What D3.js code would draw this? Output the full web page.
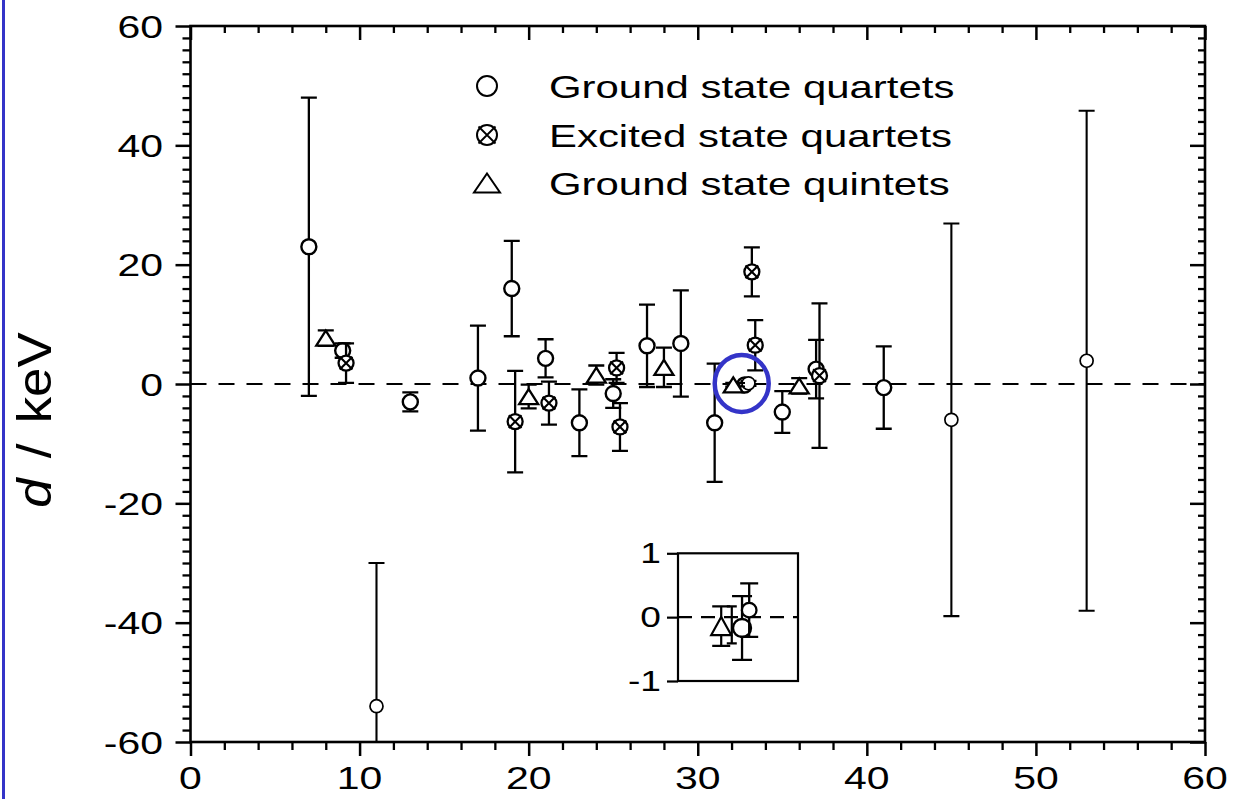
<!DOCTYPE html>
<html><head><meta charset="utf-8">
<script src="https://cdn.jsdelivr.net/npm/d3@7"></script>
<style>
html,body{margin:0;padding:0;background:#fff;}
svg{display:block;}
text{font-family:"Liberation Sans", Arial, sans-serif; fill:#000;}
</style></head><body>
<svg id="chart" width="1236" height="799"></svg>
<script>
// ---------- data ----------
const quartetX   = [7, 9, 13, 17, 19, 21, 23, 25, 27, 29, 31, 32.77, 35, 37, 41];
const quartetD   = [23, 5.6, -3, 1, 16, 4.3, -6.5, -1.6, 6.4, 6.8, -6.5, -0.17, -4.7, 2.5, -0.6];
const quartetErr = [25, 1.2, 1.6, 8.8, 8, 3.2, 5.6, 2.4, 6.9, 8.9, 9.9, 0.5, 3.5, 4.9, 6.9];

const quartet2X   = [11, 33, 45, 53];
const quartet2D   = [-54, 0.11, -6, 3.9];
const quartet2Err = [24, 0.42, 32.9, 41.9];

const excitedX   = [9.2, 19.2, 21.2, 25.2, 25.4, 33.2, 33.4, 37.2];
const excitedD   = [3.5, -6.3, -3.2, 2.7, -7.2, 18.8, 6.5, 1.4];
const excitedErr = [3.3, 8.5, 3.6, 2.5, 4, 4.1, 4.2, 12.1];

const quintetX   = [8, 20, 24, 28, 32.1, 36];
const quintetD   = [7.7, -2.1, 1.5, 2.8, -0.14, -0.3];
const quintetErr = [1.3, 2, 1.6, 3.3, 0.31, 1.3];

const plainX   = [32.44];
const plainD   = [-0.12];
const plainErr = [0.29];

const xTicks = [0, 10, 20, 30, 40, 50, 60];
const yTicks = [-60, -40, -20, 0, 20, 40, 60];
const insetTicks = [-1, 0, 1];
const legendLabels = ["Ground state quartets", "Excited state quartets", "Ground state quintets"];
const yLabelItalic = "d";
const yLabelRest = " / keV";

// ---------- layout ----------
const svg = d3.select("#chart");
const P = {left: 190.5, right: 1205, top: 26, bottom: 742};
const S = 1.28; // horizontal text stretch
const x = d3.scaleLinear().domain([0, 60]).range([P.left, P.right]);
const y = d3.scaleLinear().domain([-60, 60]).range([P.bottom, P.top]);
const xMinor = d3.range(0, 61, 2).filter(v => v % 10 !== 0);
const yMinor = d3.range(-60, 61, 2).filter(v => v % 20 !== 0);

// blue side line
svg.append("rect").attr("x", 2).attr("y", 0).attr("width", 3).attr("height", 799).attr("fill", "#3434c8");

svg.append("defs").append("clipPath").attr("id", "clip")
  .append("rect").attr("x", P.left).attr("y", P.top).attr("width", P.right - P.left).attr("height", P.bottom - P.top);

function styleAxis(g, w) {
  g.select(".domain").remove();
  g.selectAll("line").attr("stroke", "#000").attr("stroke-width", w);
}
// bottom (outward)
svg.append("g").attr("transform", `translate(0,${P.bottom})`)
  .call(d3.axisBottom(x).tickValues(xMinor).tickSize(8).tickFormat("").tickSizeOuter(0)).call(g => styleAxis(g, 2.3));
svg.append("g").attr("transform", `translate(0,${P.bottom})`)
  .call(d3.axisBottom(x).tickValues(xTicks).tickSize(14).tickFormat("").tickSizeOuter(0)).call(g => styleAxis(g, 2.5));
// top (inward)
svg.append("g").attr("transform", `translate(0,${P.top})`)
  .call(d3.axisBottom(x).tickValues(xMinor).tickSize(7).tickFormat("").tickSizeOuter(0)).call(g => styleAxis(g, 2.3));
svg.append("g").attr("transform", `translate(0,${P.top})`)
  .call(d3.axisBottom(x).tickValues(xTicks).tickSize(14).tickFormat("").tickSizeOuter(0)).call(g => styleAxis(g, 2.5));
// left (outward)
svg.append("g").attr("transform", `translate(${P.left},0)`)
  .call(d3.axisLeft(y).tickValues(yMinor).tickSize(8).tickFormat("").tickSizeOuter(0)).call(g => styleAxis(g, 2.3));
svg.append("g").attr("transform", `translate(${P.left},0)`)
  .call(d3.axisLeft(y).tickValues(yTicks).tickSize(15).tickFormat("").tickSizeOuter(0)).call(g => styleAxis(g, 2.5));
// right (inward)
svg.append("g").attr("transform", `translate(${P.right},0)`)
  .call(d3.axisLeft(y).tickValues(yMinor).tickSize(7).tickFormat("").tickSizeOuter(0)).call(g => styleAxis(g, 2.3));
svg.append("g").attr("transform", `translate(${P.right},0)`)
  .call(d3.axisLeft(y).tickValues(yTicks).tickSize(15).tickFormat("").tickSizeOuter(0)).call(g => styleAxis(g, 2.5));

// frame
svg.append("rect").attr("x", P.left).attr("y", P.top).attr("width", P.right - P.left).attr("height", P.bottom - P.top)
  .attr("fill", "none").attr("stroke", "#000").attr("stroke-width", 2.6);

// tick labels
svg.append("g").selectAll("text").data(xTicks).join("text")
  .attr("transform", d => `translate(${x(d)},789) scale(${S},1)`)
  .attr("text-anchor", "middle").attr("font-size", 32).text(d => d);
svg.append("g").selectAll("text").data(yTicks).join("text")
  .attr("transform", d => `translate(163,${y(d) + 11.5}) scale(${S},1)`)
  .attr("text-anchor", "end").attr("font-size", 32).text(d => d);

// y label
const yl = svg.append("text").attr("transform", "translate(51,420) rotate(-90) scale(1.1,1)")
  .attr("text-anchor", "middle").attr("font-size", 48).attr("word-spacing", 5);
yl.append("tspan").attr("font-style", "italic").text(yLabelItalic);
yl.append("tspan").text(yLabelRest);

// zero line
svg.append("line").attr("x1", P.left).attr("x2", P.right).attr("y1", y(0)).attr("y2", y(0))
  .attr("stroke", "#000").attr("stroke-width", 2.2).attr("stroke-dasharray", "16,12");

// ---------- markers ----------
function circleM(g, r, sw) {
  g.append("circle").attr("r", r).attr("fill", "#fff").attr("stroke", "#000").attr("stroke-width", sw);
}
function crossM(g, r, sw) {
  circleM(g, r, sw);
  const k = r * 0.85;
  g.append("path").attr("d", `M${-k},${-k}L${k},${k}M${-k},${k}L${k},${-k}`).attr("stroke", "#000").attr("stroke-width", sw * 0.9);
}
function triM(g, w, h, sw) {
  g.append("path").attr("d", `M0,${-h / 2}L${w / 2},${h / 2}L${-w / 2},${h / 2}Z`)
    .attr("fill", "#fff").attr("stroke", "#000").attr("stroke-width", sw).attr("stroke-linejoin", "miter");
}

function drawSeries(layer, xs, ds, es, xs_, ys_, opts) {
  const data = xs.map((v, i) => ({x: v, d: ds[i], e: es[i]}));
  const eb = layer.append("g").attr("clip-path", opts.clip ? "url(#clip)" : null);
  data.forEach(p => {
    const cx = xs_(p.x), y1 = ys_(p.d + p.e), y2 = ys_(p.d - p.e);
    eb.append("path").attr("d", `M${cx},${y1}L${cx},${y2}M${cx - opts.cap},${y1}L${cx + opts.cap},${y1}M${cx - opts.cap},${y2}L${cx + opts.cap},${y2}`)
      .attr("stroke", "#000").attr("stroke-width", opts.ebw).attr("fill", "none");
  });
  if (opts.marker) {
    data.forEach(p => {
      const g = layer.append("g").attr("transform", `translate(${xs_(p.x)},${ys_(p.d)})`);
      opts.marker(g);
    });
  }
}

const main = svg.append("g");
drawSeries(main, quartetX, quartetD, quartetErr, x, y, {clip: true, cap: 8, ebw: 2.3, marker: g => circleM(g, 7.5, 2.4)});
drawSeries(main, quartet2X, quartet2D, quartet2Err, x, y, {clip: true, cap: 8, ebw: 2.1, marker: g => circleM(g, 6.5, 1.7)});
drawSeries(main, plainX, plainD, plainErr, x, y, {clip: true, cap: 6, ebw: 2.0, marker: null});
drawSeries(main, excitedX, excitedD, excitedErr, x, y, {clip: true, cap: 8, ebw: 2.3, marker: g => crossM(g, 7.5, 2.3)});
drawSeries(main, quintetX, quintetD, quintetErr, x, y, {clip: true, cap: 8, ebw: 2.3, marker: g => triM(g, 19, 15, 2.3)});

// highlight ellipse
svg.append("ellipse").attr("cx", x(32.6)).attr("cy", y(0.1)).attr("rx", 27).attr("ry", 28.5)
  .attr("fill", "none").attr("stroke", "#3434c8").attr("stroke-width", 4.5);

// ---------- legend ----------
const legRows = [86, 135, 183];
const legMarkers = [g => circleM(g, 10, 2), g => crossM(g, 10, 2), g => triM(g, 26, 19, 2)];
legendLabels.forEach((t, i) => {
  const g = svg.append("g").attr("transform", `translate(487,${legRows[i]})`);
  legMarkers[i](g);
  svg.append("text").attr("transform", `translate(549,${legRows[i] + 11.5}) scale(1.31,1)`)
    .attr("font-size", 32).text(t);
});

// ---------- inset ----------
const I = {left: 678, right: 798, top: 553.3, bottom: 681};
const xi = d3.scaleLinear().domain([30.71, 34.57]).range([I.left, I.right]);
const yi = d3.scaleLinear().domain([-1, 1]).range([I.bottom, I.top]);
const inRange = (xs, ds) => xs.map((v, i) => i).filter(i => xs[i] > xi.domain()[0] && xs[i] < xi.domain()[1] && Math.abs(ds[i]) < 1);
const inset = svg.append("g");
inset.append("rect").attr("x", I.left).attr("y", I.top).attr("width", I.right - I.left).attr("height", I.bottom - I.top)
  .attr("fill", "#fff").attr("stroke", "#000").attr("stroke-width", 2.2);
inset.append("g").attr("transform", `translate(${I.left},0)`)
  .call(d3.axisLeft(yi).tickValues(insetTicks).tickSize(11).tickFormat("").tickSizeOuter(0)).call(g => styleAxis(g, 2.2));
inset.append("g").selectAll("text").data(insetTicks).join("text")
  .attr("transform", d => `translate(661,${yi(d) + 10}) scale(${S},1)`)
  .attr("text-anchor", "end").attr("font-size", 29).text(d => d);
inset.append("line").attr("x1", I.left).attr("x2", I.right).attr("y1", yi(0)).attr("y2", yi(0))
  .attr("stroke", "#000").attr("stroke-width", 2.2).attr("stroke-dasharray", "14,9");
const inQ = inRange(quartetX, quartetD);
const inQ2 = inRange(quartet2X, quartet2D);
const inT = inRange(quintetX, quintetD);
drawSeries(inset, inT.map(i => quintetX[i]), inT.map(i => quintetD[i]), inT.map(i => quintetErr[i]), xi, yi, {cap: 9, ebw: 2.2, marker: g => triM(g, 20, 18, 2.2)});
drawSeries(inset, plainX, plainD, plainErr, xi, yi, {cap: 5, ebw: 2.2, marker: null});
drawSeries(inset, inQ.map(i => quartetX[i]), inQ.map(i => quartetD[i]), inQ.map(i => quartetErr[i]), xi, yi, {cap: 10, ebw: 2.3, marker: g => circleM(g, 9, 2.3)});
drawSeries(inset, inQ2.map(i => quartet2X[i]), inQ2.map(i => quartet2D[i]), inQ2.map(i => quartet2Err[i]), xi, yi, {cap: 9, ebw: 2.3, marker: g => circleM(g, 7.3, 2.3)});
</script>
</body></html>
